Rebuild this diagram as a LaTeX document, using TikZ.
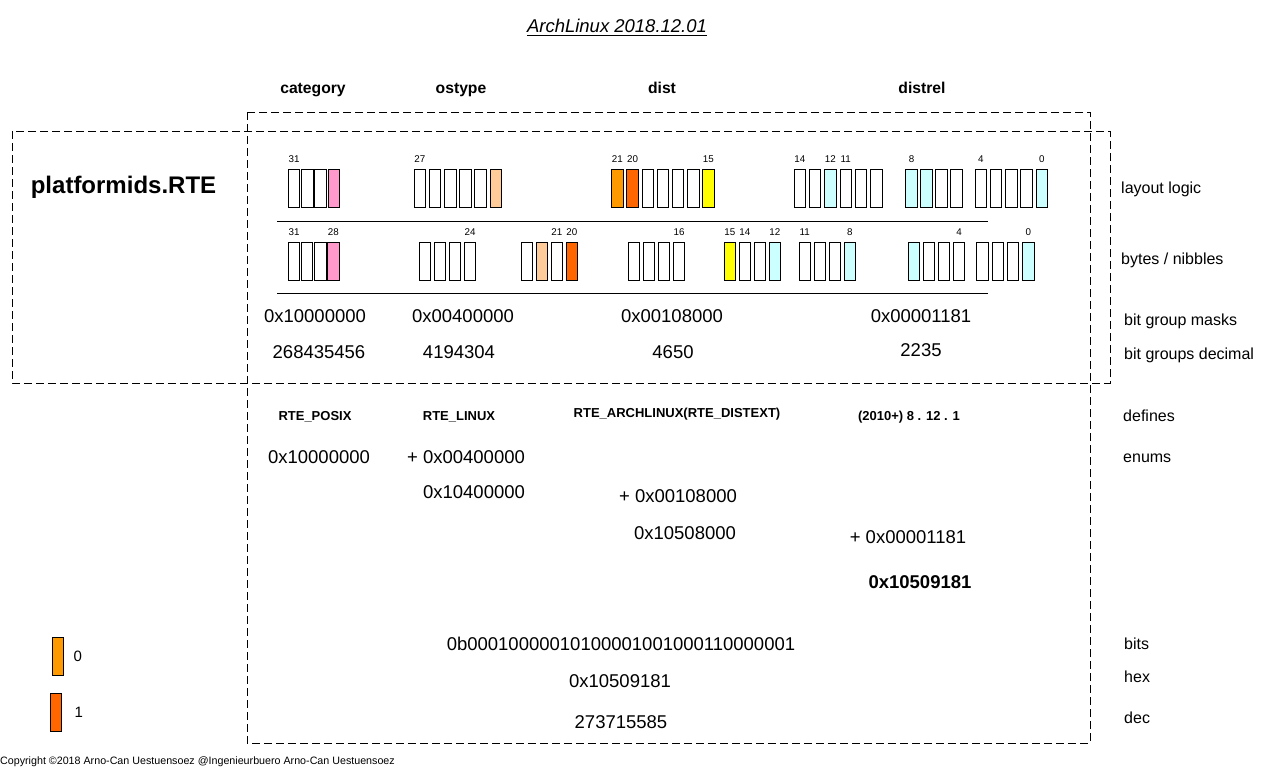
\documentclass[tikz,border=0pt]{standalone}
\usepackage{fontspec}
\setmainfont{Liberation Sans}
\usetikzlibrary{
positioning
}
\definecolor{bitpink}{HTML}{FF99CC}
\definecolor{bitpeach}{HTML}{FFCC99}
\definecolor{bitorange}{HTML}{FF9900}
\definecolor{bitred}{HTML}{FF6600}
\definecolor{bityellow}{HTML}{FFFF00}
\definecolor{bitcyan}{HTML}{CCFFFF}

\tikzset{
bitbox/.style={draw, line width=0.9pt, minimum width=11.5pt, minimum height=38pt, inner sep=0pt},
bitno/.style={font=\fontsize{9.8}{11}\selectfont, inner sep=0pt},
hdr/.style={font=\bfseries\fontsize{15.7}{18}\selectfont, anchor=base},
bignum/.style={font=\fontsize{18.5}{22}\selectfont, anchor=base},
defn/.style={font=\bfseries\fontsize{13}{15}\selectfont, anchor=base},
side/.style={font=\fontsize{16}{18}\selectfont, anchor=base west, inner sep=0pt},
frame/.style={dash pattern=on 8pt off 4pt, line width=0.8pt}
}

% one group of bit boxes: prefix, x of first centre, y, pitch, bit/colour list
\newcommand\bitgroup[5]{%
\foreach \b/\c [count=\i from 0] in {#5}
\node[bitbox, fill=\c] (#1\b) at ({#2+\i*#4}, #3) {};
}

\begin{document}
\begin{tikzpicture}[x=1pt, y=-1pt]
\useasboundingbox (0,0) rectangle (1276,768);

% frames
\draw[frame] (247,112) rectangle (1090,743);
\draw[frame] (12,131) rectangle (1110,383);

% title
\node[font=\itshape\fontsize{18.5}{22}\selectfont, anchor=base, inner sep=0pt] (title) at (617,33) {ArchLinux 2018.12.01};
\draw[line width=0.8pt] ([yshift=-2.2pt]title.base west) -- ([yshift=-2.2pt]title.base east);

% column heads
\node[hdr] (hcat) at (313,93) {category};
\node[hdr] (host) at (461,93) {ostype};
\node[hdr] (hdist) at (662,93) {dist};
\node[hdr] (hrel) at (922,93) {distrel};

\node[font=\bfseries\fontsize{24}{28}\selectfont, anchor=base] (rte) at (123.5,193.5) {platformids.RTE};

% layout logic
\bitgroup{L}{294}{188}{13.3}{31/white,30/white,29/white,28/bitpink}
\bitgroup{L}{419.8}{188}{15.2}{27/white,26/white,25/white,24/white,23/white,22/bitpeach}
\bitgroup{L}{617.4}{188}{15.17}{21/bitorange,20/bitred,19/white,18/white,17/white,16/white,15/bityellow}
\bitgroup{L}{799.8}{188}{15.3}{14/white,13/white,12/bitcyan,11/white,10/white,9/white}
\bitgroup{L}{911.5}{188}{15}{8/bitcyan,7/bitcyan,6/white,5/white}
\bitgroup{L}{980.8}{188}{15.25}{4/white,3/white,2/white,1/white,0/bitcyan}
\foreach \b in {31,27,21,20,15,14,12,11,8,4,0}
\node[bitno, above=5.5pt of L\b] (nL\b) {\b};

\draw[line width=0.9pt] (277,221) -- (988,221);

% bytes / nibbles
\bitgroup{B}{294}{261}{13.1}{31/white,30/white,29/white,28/bitpink}
\bitgroup{B}{425}{261}{15}{27/white,26/white,25/white,24/white}
\bitgroup{B}{526.8}{261}{15}{23/white,22/bitpeach,21/white,20/bitred}
\bitgroup{B}{634}{261}{15}{19/white,18/white,17/white,16/white}
\bitgroup{B}{729.8}{261}{15}{15/bityellow,14/white,13/white,12/bitcyan}
\bitgroup{B}{804.8}{261}{15}{11/white,10/white,9/white,8/bitcyan}
\bitgroup{B}{914}{261}{15}{7/bitcyan,6/white,5/white,4/white}
\bitgroup{B}{982.5}{261}{15.3}{3/white,2/white,1/white,0/bitcyan}
\foreach \b in {31,28,24,21,20,16,15,14,12,11,8,4,0}
\node[bitno, above=5.5pt of B\b] (nB\b) {\b};

\draw[line width=0.9pt] (277,293) -- (988,293);

% masks and decimals
\node[bignum] (mcat) at (315,322.6) {0x10000000};
\node[bignum] (most) at (463,322.6) {0x00400000};
\node[bignum] (mdist) at (672,322.6) {0x00108000};
\node[bignum] (mrel) at (921,322.6) {0x00001181};
\node[bignum] (dcat) at (319,358.6) {268435456};
\node[bignum] (dost) at (459,358.6) {4194304};
\node[bignum] (ddist) at (673,358.6) {4650};
\node[bignum] (drel) at (921,356.6) {2235};

% defines
\node[defn] (fcat) at (315,420.7) {RTE\_POSIX};
\node[defn] (fost) at (459,420.7) {RTE\_LINUX};
\node[defn] (fdist) at (677,417.7) {RTE\_ARCHLINUX(RTE\_DISTEXT)};
\node[defn] (frel) at (909,420.7) {(2010+) 8 . 12 . 1};

% enums
\node[bignum] (ecat) at (319,463.6) {0x10000000};
\node[bignum] (eost) at (466,463.6) {+ 0x00400000};
\node[bignum] (sost) at (474,498.6) {0x10400000};
\node[bignum] (edist) at (678,502.6) {+ 0x00108000};
\node[bignum] (sdist) at (685,539.6) {0x10508000};
\node[bignum] (erel) at (908,543.6) {+ 0x00001181};
\node[bignum, font=\bfseries\fontsize{18.5}{22}\selectfont] (srel) at (920,588.6) {0x10509181};

\node[bignum] (vbits) at (621,650.6) {0b00010000010100001001000110000001};
\node[bignum] (vhex) at (620,687.6) {0x10509181};
\node[bignum] (vdec) at (621,728.6) {273715585};

% side labels
\node[side] (slay) at (1121,193) {layout logic};
\node[side] (sbyt) at (1121,264) {bytes / nibbles};
\node[side] (smsk) at (1124,325) {bit group masks};
\node[side] (sdec) at (1124,359) {bit groups decimal};
\node[side] (sdef) at (1123,421) {defines};
\node[side] (senu) at (1123,462) {enums};
\node[side] (sbit) at (1124,649) {bits};
\node[side] (shex) at (1124,682) {hex};
\node[side] (sdc) at (1124,723) {dec};

% legend
\node[bitbox, fill=bitorange] (k0) at (57.8,656) {};
\node[bitbox, fill=bitred] (k1) at (55.8,712.5) {};
\node[side, font=\fontsize{15}{18}\selectfont] (t0) at (73.5,661) {0};
\node[side, font=\fontsize{15}{18}\selectfont] (t1) at (74.5,717) {1};

\node[side, font=\fontsize{10.7}{12}\selectfont] (copy) at (0,764) {Copyright ©2018 Arno-Can Uestuensoez @Ingenieurbuero Arno-Can Uestuensoez};

\end{tikzpicture}
\end{document}
